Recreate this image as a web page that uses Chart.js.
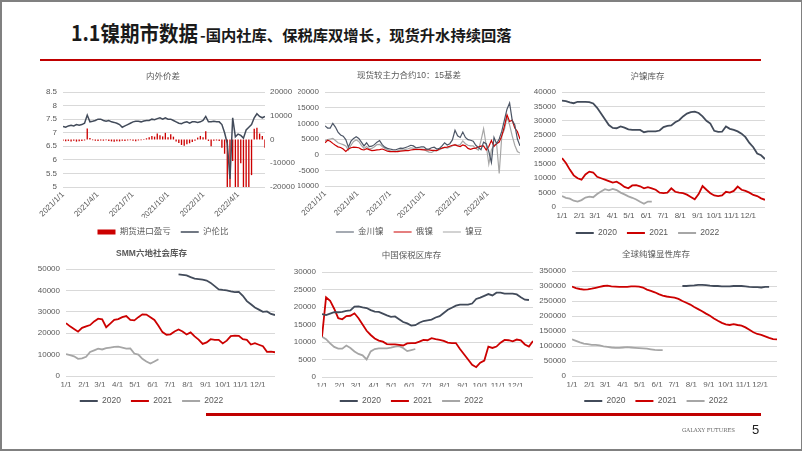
<!DOCTYPE html>
<html>
<head>
<meta charset="utf-8">
<script src="https://cdn.jsdelivr.net/npm/chart.js@4.4.0/dist/chart.umd.min.js"></script>
<style>
html,body{margin:0;padding:0;background:#fff;}
#page{position:relative;width:802px;height:451px;overflow:hidden;background:#fff;}
#frame{position:absolute;left:0;top:0;width:802px;height:451px;box-sizing:border-box;border:2px solid #808080;border-right-width:1px;}
canvas{position:absolute;}
.t1{position:absolute;left:71px;top:19px;font:bold 21px 'Noto Sans CJK SC',sans-serif;color:#1a1a1a;white-space:nowrap;transform:scaleX(0.93);transform-origin:left top;line-height:26px;}
.t2{position:absolute;left:200px;top:24px;font:bold 15.3px 'Noto Sans CJK SC',sans-serif;color:#1a1a1a;white-space:nowrap;line-height:20px;}
.redtop{position:absolute;left:40px;top:59px;width:721px;height:2px;background:#C00000;}
.redbot{position:absolute;left:206px;top:413px;width:555px;height:3px;background:#C00000;}
.brand{position:absolute;left:682px;top:427px;font:5.4px 'DejaVu Serif',serif;color:#666;}
.pno{position:absolute;left:752px;top:422px;font:13px 'Liberation Sans',sans-serif;color:#222;}
</style>
</head>
<body>
<div id="page">
  <div class="t1">1.1镍期市数据</div>
  <div class="t2">-国内社库、保税库双增长，现货升水持续回落</div>
  <div class="redtop"></div>
  <canvas id="c1" width="270" height="190" style="left:28px;top:62px"></canvas>
  <canvas id="c2" width="232" height="190" style="left:298px;top:62px"></canvas>
  <canvas id="c3" width="255" height="190" style="left:530px;top:62px"></canvas>
  <canvas id="c4" width="255" height="180" style="left:28px;top:245px"></canvas>
  <canvas id="c5" width="250" height="180" style="left:290px;top:245px"></canvas>
  <canvas id="c6" width="255" height="180" style="left:535px;top:245px"></canvas>
  <div class="redbot"></div>
  <div class="brand">GALAXY FUTURES</div>
  <div class="pno">5</div>
  <div id="frame"></div>
</div>
<script>
// ---- data (weekly samples) ----
const dateTicks1 = ['2021/1/1', '2021/4/1', '2021/7/1', '2021/10/1', '2022/1/1', '2022/4/1'];
const dateTickPos1 = [0, 12.86, 25.86, 39, 52.14, 65];
const dateTickPos2 = [0, 12.5, 25, 38, 51.5, 62.5];
const monthLabels = ['1/1', '2/1', '3/1', '4/1', '5/1', '6/1', '7/1', '8/1', '9/1', '10/1', '11/1', '12/1'];
const monthStartDays = [0, 31, 59, 90, 120, 151, 181, 212, 243, 273, 304, 334];

// 内外价差
const importPL = [-500,-700,-600,-800,-500,-900,-700,-600,-400,4600,600,-300,-500,-600,-400,-500,-300,-600,-800,-900,-700,-800,-500,-600,-400,-300,-500,-700,-400,-300,-200,500,1000,1500,1200,2500,1800,1300,2800,1000,2200,1200,-800,-1500,-2300,-2600,-2000,-1600,-1000,-500,800,1500,1000,3500,-600,-2800,-500,-400,-600,-3500,-6000,-24000,-21000,-9000,-23000,-26000,-10000,-22000,-25000,-24000,-15000,4500,5000,2500,1500,-3500];
const shLmeRatio = [7.23,7.2,7.25,7.27,7.25,7.3,7.28,7.3,7.35,7.65,7.4,7.42,7.45,7.5,7.5,7.45,7.42,7.45,7.4,7.38,7.35,7.3,7.2,7.25,7.3,7.35,7.4,7.42,7.42,7.4,7.43,7.45,7.45,7.5,7.48,7.52,7.55,7.5,7.55,7.5,7.5,7.45,7.4,7.35,7.33,7.38,7.4,7.35,7.4,7.4,7.38,7.4,7.45,7.6,7.4,7.4,7.42,7.4,7.4,7.3,7.0,6.6,5.3,7.55,6.85,6.95,6.9,6.8,7.1,7.2,7.3,7.55,7.7,7.6,7.55,7.6];

// 现货较主力合约基差
const basisJinchuan = [9200,8500,8500,10000,8800,7200,6300,5900,4800,2400,4300,5200,5700,5200,4000,2800,3800,2600,2700,3200,4000,4500,3200,2400,2000,1800,1600,1500,1800,2100,2000,2300,2600,3000,2800,2200,2300,2500,2500,1800,1800,2200,2400,1800,2000,2800,3800,3100,3500,4700,7800,6000,5500,7200,5500,4800,4600,4300,3000,2300,1600,4000,3500,1000,-2500,5500,3500,5000,7500,11000,14500,16500,11000,9500,5000,2800];
const basisRussian = [3800,4600,4300,3600,3000,2500,2300,1800,1000,1800,2200,2400,2300,2200,1700,1500,1900,1600,1300,1400,1500,1600,1800,1500,1100,1000,1000,1000,1000,1100,1200,1300,1300,1500,1600,1700,1700,1600,1500,1500,1500,1400,1400,1300,1800,2100,2300,2400,2700,3000,3100,2800,2600,3100,2800,2000,1700,2000,2100,2400,2700,2800,1500,2600,4500,2600,3500,4000,6000,9000,12700,10600,11000,8500,7400,5000];
const basisBean = [4500,4800,5000,5200,4500,3800,3500,3200,2800,1500,3000,4200,4700,4200,3000,2000,2600,1800,2000,2500,3200,3300,2600,2000,1600,1300,1100,1000,1300,1500,1500,1700,1900,2200,2000,1600,1600,1800,1700,1200,800,700,1200,1300,1600,2000,2300,2100,2400,2800,3300,3000,3200,4400,3500,3000,2800,2800,2000,1500,4500,8300,3000,-3000,1500,3000,3500,-6000,6000,8000,12000,9500,6000,3000,1000,500];

// 沪镍库存
const shfe2020 = [37000,36800,36400,36100,36600,36600,36600,36500,36000,34500,32500,30500,28500,27500,27400,28000,27600,27000,26800,26800,26800,26000,26300,26300,26300,26600,27800,28200,28400,29500,30200,31500,32500,33000,33200,32700,31500,30000,29000,26500,26100,26200,28000,27200,26800,26300,25500,24300,22300,20800,18600,18000,16700];
const shfe2021 = [17000,15300,13000,11000,10000,9500,11300,12300,12000,10500,10000,9500,9000,8500,8800,8000,7000,6500,7500,7600,7200,6500,6900,6500,6000,5000,4800,5000,6500,5300,5000,4800,4300,3500,2700,4500,7300,6000,4800,4000,3800,4000,5300,5000,5600,7100,6000,5600,5000,4200,3800,3000,2500];
const shfe2022 = [3800,3200,2900,2200,1900,2400,3300,3600,3400,4500,5400,6200,5800,6300,5900,5000,4400,3700,3200,2600,1800,1100,1900,1900];

// SMM六地社会库存 (2020 starts at week 28)
const smm2020Start = 28;
const smm2020 = [47500,47300,47000,46200,45500,45300,45000,44600,43500,42000,40500,40200,40000,39500,39200,39300,37500,35000,33500,32000,31000,30000,30200,29000,28500];
const smm2021 = [24700,23200,22000,20700,22500,23200,23800,25500,26800,26500,22800,24500,26200,26600,27500,28000,26200,26000,27500,28800,28700,27500,26200,23500,20500,19300,19500,20800,21700,20800,19400,20400,18500,17000,15000,15700,17200,16900,16900,15200,16500,18600,18900,18800,17200,16900,14700,15300,14600,13900,11300,11400,11100];
const smm2022 = [10200,9800,9200,8000,8200,9000,11200,12000,12800,12400,13000,13300,13600,13700,13300,12800,12900,10500,10000,8000,6800,5800,6800,7800];

// 中国保税区库存
const bonded2020 = [18000,17700,18100,18500,18500,18600,18900,19000,20100,20200,19900,19700,19100,18700,18600,18100,17600,17200,17300,16500,15700,15300,14700,14800,15500,16000,16200,16400,17000,17400,18300,19200,19800,20400,20700,20700,20700,21000,22300,22700,23200,23700,23300,24100,24100,23800,23800,23800,23600,22800,22100,22000];
const bonded2021 = [11500,22800,21800,19500,16800,16500,17400,17500,18200,16800,15000,13200,12000,11000,10400,10100,9400,9300,9300,9200,9000,9600,9700,9700,10100,10600,10500,11100,10800,10600,10300,9800,9700,9700,8000,6500,5000,3500,2800,4100,4700,8700,8300,8700,9800,10600,10500,10200,10700,10500,9300,8700,10300];
const bonded2022 = [11500,10800,9600,8600,8100,8100,9000,8300,7300,6600,6200,5000,7300,8000,8200,8200,8200,8400,8700,8800,8300,7400,7700,8000];

// 全球纯镍显性库存 (2020 starts at week 28)
const global2020Start = 28;
const global2020 = [300000,300000,301000,302000,304000,304000,303000,301000,300000,300000,299000,299000,299000,300000,300000,300000,299000,297000,296000,296000,295000,297000,297000];
const global2021 = [298000,293000,290000,288000,289000,291000,294000,297000,300000,301000,299000,298000,297000,297000,297000,299000,299000,298000,295000,288000,284000,279000,273000,268000,265000,263000,261000,257000,250000,244000,238000,230000,223000,216000,208000,201000,192000,184000,177000,172000,170000,173000,170000,168000,162000,154000,146000,140000,137000,132000,127000,123000,122000];
const global2022 = [122000,117000,112000,108000,106000,104000,104000,102000,99000,97000,95000,94000,94000,95000,96000,95000,94000,93000,92000,91000,89000,87000,86000,86000];

// ---- styling ----
const DARK = '#424b5a', RED = '#CC0000', GREY = '#A6A6A6';
const FONT = "'Liberation Sans','Noto Sans CJK SC',sans-serif";
Chart.defaults.font.family = FONT;
Chart.defaults.font.size = 8;
Chart.defaults.color = '#595959';

const TITLE_FS = 8.5, LEG_FS = 8.5, LEG_PAD = 10;

// page boxes: canvas rect, plot rect, title / legend centre lines
function layoutFor(b) {
  const lh = TITLE_FS * 1.2;
  const tT = b.titleY - b.y - lh / 2;
  const tB = b.t - b.y - tT - lh;
  const legTop = b.legendY - b.y - LEG_PAD - LEG_FS / 2;
  const legH = LEG_FS + LEG_PAD + 10;
  return {
    tT: tT, tB: tB,
    xH: legTop - (b.b - b.y),
    padB: b.h - (legTop + legH),
    yW: b.l - b.x,
    y1W: b.y1W || 0,
    padR: b.x + b.w - b.r - (b.y1W || 0)
  };
}

function pts(arr, start) {
  return arr.map((v, i) => ({x: (start + i) * 7, y: v}));
}
function idxPts(arr) {
  return arr.map((v, i) => ({x: i, y: v}));
}

function baseOptions(L, title, bold) {
  return {
    responsive: false, animation: false, devicePixelRatio: 1,
    layout: {padding: {left: 0, right: L.padR, top: 0, bottom: L.padB}},
    plugins: {
      title: {display: true, text: title, color: '#595959',
        font: {size: TITLE_FS, weight: bold ? 'bold' : 'normal'},
        padding: {top: L.tT, bottom: L.tB}},
      legend: {position: 'bottom',
        labels: {usePointStyle: true, pointStyleWidth: 18, boxHeight: 5, padding: LEG_PAD,
          font: {size: LEG_FS}, color: '#595959',
          sort: (a, b) => a.datasetIndex - b.datasetIndex}},
      tooltip: {enabled: false}
    }
  };
}

function yAxis(L, min, max, step, extra) {
  return Object.assign({
    min: min, max: max,
    ticks: {stepSize: step, padding: 6, callback: v => v},
    grid: {color: '#D9D9D9', drawTicks: false},
    border: {display: false},
    afterFit: s => { s.width = L.yW; }
  }, extra || {});
}

function lineDs(label, data, color, width) {
  return {type: 'line', label: label, data: data, borderColor: color, backgroundColor: color,
    borderWidth: width, pointRadius: 0, pointStyle: 'line', tension: 0, spanGaps: false};
}

// ---- chart 1: 内外价差 ----
(function () {
  const L = layoutFor({x: 28, y: 62, w: 270, h: 190, l: 63, r: 265, t: 92, b: 187, titleY: 77, legendY: 232, y1W: 33});
  const opt = baseOptions(L, '内外价差', false);
  opt.scales = {
    x: {type: 'linear', min: 0, max: 75, offset: false,
      grid: {display: false, drawTicks: false, offset: false}, border: {display: false},
      afterBuildTicks: s => { s.ticks = dateTickPos1.map(v => ({value: v})); },
      ticks: {autoSkip: false, minRotation: 45, maxRotation: 45, padding: 3, callback: (v, i) => dateTicks1[i]},
      afterFit: s => { s.height = L.xH; }},
    y: yAxis(L, 5, 8.5, 0.5),
    y1: {position: 'right', min: -20000, max: 20000,
      ticks: {stepSize: 5000, padding: 5, callback: v => v},
      grid: {display: false, drawTicks: false}, border: {display: false},
      afterFit: s => { s.width = L.y1W; }}
  };
  new Chart(document.getElementById('c1'), {
    type: 'bar',
    data: {datasets: [
      {type: 'bar', label: '期货进口盈亏', data: idxPts(importPL), yAxisID: 'y1', order: 1,
        backgroundColor: RED, borderWidth: 0, pointStyle: 'rect',
        barPercentage: 0.5, categoryPercentage: 1},
      Object.assign(lineDs('沪伦比', idxPts(shLmeRatio), DARK, 1.5), {yAxisID: 'y', order: 0})
    ]},
    options: opt
  });
})();

// ---- chart 2: 基差 ----
(function () {
  const L = layoutFor({x: 298, y: 62, w: 232, h: 190, l: 325, r: 520, t: 92, b: 186, titleY: 76, legendY: 232});
  const opt = baseOptions(L, '现货较主力合约10：15基差', false);
  opt.scales = {
    x: {type: 'linear', min: 0, max: 75,
      grid: {display: false, drawTicks: false}, border: {display: false},
      afterBuildTicks: s => { s.ticks = dateTickPos2.map(v => ({value: v})); },
      ticks: {autoSkip: false, minRotation: 45, maxRotation: 45, padding: 3, callback: (v, i) => dateTicks1[i]},
      afterFit: s => { s.height = L.xH; }},
    y: yAxis(L, -10000, 20000, 5000)
  };
  new Chart(document.getElementById('c2'), {
    type: 'line',
    data: {datasets: [
      lineDs('金川镍', idxPts(basisJinchuan), '#4d5666', 1.2),
      lineDs('俄镍', idxPts(basisRussian), RED, 1.2),
      lineDs('镍豆', idxPts(basisBean), GREY, 1.2)
    ]},
    options: opt
  });
})();

// ---- charts 3-6: yearly inventory ----
function yearChart(id, box, title, bold, yMax, yStep, s20, start20, s21, s22) {
  const L = layoutFor(box);
  const opt = baseOptions(L, title, bold);
  opt.scales = {
    x: {type: 'linear', min: 0, max: 364,
      grid: {display: false, drawTicks: false}, border: {display: false},
      afterBuildTicks: s => { s.ticks = monthStartDays.map(v => ({value: v})); },
      ticks: {autoSkip: false, maxRotation: 0, minRotation: 0, padding: 4, callback: (v, i) => monthLabels[i]},
      afterFit: s => { s.height = L.xH; }},
    y: yAxis(L, 0, yMax, yStep)
  };
  new Chart(document.getElementById(id), {
    type: 'line',
    data: {datasets: [
      lineDs('2020', pts(s20, start20), DARK, 1.8),
      lineDs('2021', pts(s21, 0), RED, 1.8),
      lineDs('2022', pts(s22, 0), GREY, 1.8)
    ]},
    options: opt
  });
}

yearChart('c3', {x: 530, y: 62, w: 255, h: 190, l: 562, r: 765, t: 92, b: 207, titleY: 77, legendY: 233},
  '沪镍库存', false, 40000, 5000, shfe2020, 0, shfe2021, shfe2022);
yearChart('c4', {x: 28, y: 245, w: 255, h: 180, l: 66, r: 275, t: 269, b: 376, titleY: 254, legendY: 401},
  'SMM六地社会库存', true, 50000, 5000, smm2020, smm2020Start, smm2021, smm2022);
yearChart('c5', {x: 290, y: 245, w: 250, h: 180, l: 322, r: 533, t: 272, b: 377, titleY: 256, legendY: 401},
  '中国保税区库存', false, 30000, 5000, bonded2020, 0, bonded2021, bonded2022);
yearChart('c6', {x: 535, y: 245, w: 255, h: 180, l: 572, r: 777, t: 271, b: 376, titleY: 255, legendY: 401},
  '全球纯镍显性库存', false, 350000, 50000, global2020, global2020Start, global2021, global2022);
</script>
</body>
</html>
